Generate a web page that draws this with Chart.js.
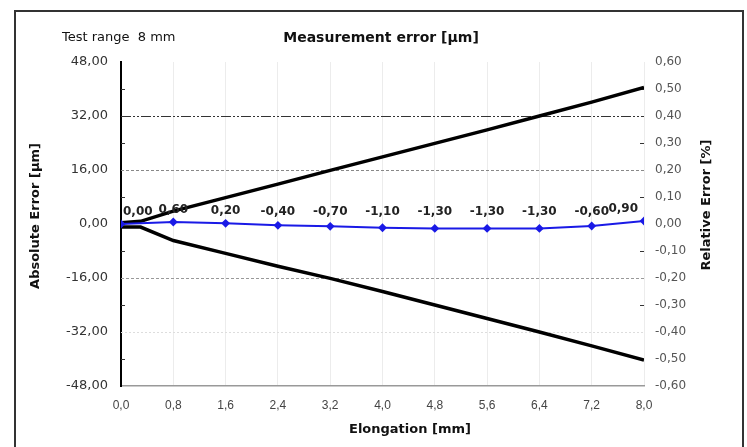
<!DOCTYPE html>
<html>
<head>
<meta charset="utf-8">
<script src="https://cdn.jsdelivr.net/npm/chart.js@4/dist/chart.umd.min.js"></script>
<style>
  html, body { margin: 0; padding: 0; background: #fff; }
  #wrap { position: relative; width: 747px; height: 447px; overflow: hidden; }
  #frame { position: absolute; left: 14px; top: 10px; width: 726px; height: 460px; border: 2px solid #333; }
  #errChart { position: absolute; left: 0; top: 0; }
</style>
</head>
<body>
<div id="wrap">
  <div id="frame"></div>
  <canvas id="errChart" width="747" height="447"></canvas>
</div>
<script>
// measured points (elongation in mm, absolute error in µm)
const elongation = [0.0, 0.8, 1.6, 2.4, 3.2, 4.0, 4.8, 5.6, 6.4, 7.2, 8.0];
const measuredError = [0.0, 0.6, 0.2, -0.4, -0.7, -1.1, -1.3, -1.3, -1.3, -0.6, 0.9];

// tolerance lines
const limitX = [0.0, 0.3, 0.8, 1.6, 2.4, 3.2, 4.0, 4.8, 5.6, 6.4, 7.2, 8.0];
const upperLimit = [0.4, 0.8, 3.8, 7.8, 11.8, 15.9, 19.9, 23.9, 27.9, 32.0, 36.1, 40.5];
const lowerLimit = [-0.9, -0.9, -4.9, -8.7, -12.5, -16.1, -20.0, -24.0, -28.0, -32.0, -36.1, -40.3];

// tick labels
const xTickLabels = ['0,0', '0,8', '1,6', '2,4', '3,2', '4,0', '4,8', '5,6', '6,4', '7,2', '8,0'];
const yTickLabels = ['-48,00', '-32,00', '-16,00', '0,00', '16,00', '32,00', '48,00'];
const y2TickLabels = ['-0,60', '-0,50', '-0,40', '-0,30', '-0,20', '-0,10', '0,00',
                      '0,10', '0,20', '0,30', '0,40', '0,50', '0,60'];

const FONT = "'DejaVu Sans', 'Liberation Sans', sans-serif";

function toPoints(xs, ys) {
    return xs.map((x, i) => ({ x: x, y: ys[i] }));
}

// horizontal grid lines with their own dash styles + small minor marks
const gridPlugin = {
    id: 'gridLines',
    beforeDatasetsDraw(chart) {
        const { ctx, chartArea: a } = chart;
        const y = chart.scales.y;
        const styles = {
            '32': { color: '#333', dash: [10, 2, 2, 2, 2, 2] },
            '16': { color: '#888', dash: [3, 2] },
            '-16': { color: '#999', dash: [3, 2] },
            '-32': { color: '#ddd', dash: [2, 2] }
        };
        ctx.save();
        ctx.lineWidth = 1;
        y.ticks.forEach(t => {
            const s = styles[String(t.value)];
            if (!s) return;
            const py = Math.round(y.getPixelForValue(t.value)) + 0.5;
            ctx.strokeStyle = s.color;
            ctx.setLineDash(s.dash);
            ctx.beginPath();
            ctx.moveTo(a.left, py);
            ctx.lineTo(a.right, py);
            ctx.stroke();
        });
        ctx.setLineDash([]);
        ctx.strokeStyle = '#333';
        const y2 = chart.scales.y2;
        y2.ticks.forEach(t => {
            const v = Math.round(t.value * 10);
            if (v % 2 === 0) return;
            const py = Math.round(y2.getPixelForValue(t.value)) + 0.5;
            ctx.beginPath();
            ctx.moveTo(a.left, py);
            ctx.lineTo(a.left + 4, py);
            ctx.moveTo(a.right - 4, py);
            ctx.lineTo(a.right, py);
            ctx.stroke();
        });
        ctx.restore();
    }
};

// value labels above the blue points
const valueLabels = {
    id: 'valueLabels',
    afterDatasetsDraw(chart) {
        const { ctx, chartArea: a } = chart;
        const meta = chart.getDatasetMeta(0);
        const y = chart.scales.y;
        ctx.save();
        ctx.font = 'bold 12px ' + FONT;
        ctx.fillStyle = '#222';
        ctx.textAlign = 'center';
        ctx.textBaseline = 'middle';
        meta.data.forEach((pt, i) => {
            const v = measuredError[i];
            const txt = v.toFixed(2).replace('.', ',');
            const w = ctx.measureText(txt).width;
            let cx = pt.x;
            cx = Math.max(cx, a.left + 2 + w / 2);
            cx = Math.min(cx, a.right - 6 - w / 2);
            const cy = y.getPixelForValue(Math.max(v, 0)) - 12;
            ctx.fillText(txt, cx, cy);
        });
        ctx.restore();
    }
};

// titles
const titles = {
    id: 'titles',
    afterDraw(chart) {
        const ctx = chart.ctx;
        ctx.save();
        ctx.fillStyle = '#111';
        ctx.textBaseline = 'middle';

        ctx.font = '13px ' + FONT;
        ctx.textAlign = 'left';
        ctx.fillText('Test range  8 mm', 62, 38);

        ctx.font = 'bold 14px ' + FONT;
        ctx.textAlign = 'center';
        ctx.fillText('Measurement error [µm]', 381, 38);

        ctx.font = 'bold 13px ' + FONT;
        ctx.fillText('Elongation [mm]', 410, 430);

        ctx.save();
        ctx.translate(36, 216);
        ctx.rotate(-Math.PI / 2);
        ctx.fillText('Absolute Error [µm]', 0, 0);
        ctx.restore();

        ctx.save();
        ctx.translate(707, 205);
        ctx.rotate(-Math.PI / 2);
        ctx.fillText('Relative Error [%]', 0, 0);
        ctx.restore();

        ctx.restore();
    }
};

const canvas = document.getElementById('errChart');
const ctx = canvas.getContext('2d');

const errChart = new Chart(ctx, {
    type: 'line',
    data: {
        datasets: [{
            label: 'Measurement error',
            data: toPoints(elongation, measuredError),
            borderColor: '#1a1ae6',
            backgroundColor: '#1a1ae6',
            borderWidth: 2,
            pointStyle: 'rectRot',
            pointRadius: 3,
            tension: 0,
            yAxisID: 'y'
        }, {
            label: 'Upper limit',
            data: toPoints(limitX, upperLimit),
            borderColor: '#000',
            borderWidth: 3.5,
            pointRadius: 0,
            tension: 0,
            yAxisID: 'y'
        }, {
            label: 'Lower limit',
            data: toPoints(limitX, lowerLimit),
            borderColor: '#000',
            borderWidth: 3.5,
            pointRadius: 0,
            tension: 0,
            yAxisID: 'y'
        }]
    },
    options: {
        responsive: false,
        animation: false,
        devicePixelRatio: 1,
        layout: { padding: { left: 0, right: 0, top: 62, bottom: 0 } },
        plugins: {
            legend: { display: false },
            tooltip: { enabled: false },
            title: { display: false }
        },
        scales: {
            x: {
                type: 'linear',
                min: 0,
                max: 8,
                afterFit: s => { s.height = 61; },
                ticks: {
                    stepSize: 0.8,
                    padding: 12,
                    color: '#444',
                    font: { family: "'Liberation Sans', Arial, sans-serif", size: 12 },
                    maxRotation: 0,
                    autoSkip: false,
                    callback: (v, i) => xTickLabels[i]
                },
                grid: { color: '#ececec', lineWidth: 1, drawTicks: false },
                border: { display: true, color: '#999', width: 1.5 }
            },
            y: {
                position: 'left',
                min: -48,
                max: 48,
                afterFit: s => { s.width = 121; },
                ticks: {
                    stepSize: 16,
                    padding: 13,
                    color: '#333',
                    font: { family: FONT, size: 13 },
                    callback: (v, i) => yTickLabels[i]
                },
                grid: { display: false, drawTicks: false },
                border: { display: true, color: '#000', width: 2 }
            },
            y2: {
                position: 'right',
                min: -0.6,
                max: 0.6,
                afterFit: s => { s.width = 103; },
                ticks: {
                    stepSize: 0.1,
                    padding: 11,
                    color: '#555',
                    font: { family: FONT, size: 12 },
                    callback: (v, i) => y2TickLabels[i]
                },
                grid: { display: false, drawTicks: false },
                border: { display: false }
            }
        }
    },
    plugins: [gridPlugin, valueLabels, titles]
});
</script>
</body>
</html>
